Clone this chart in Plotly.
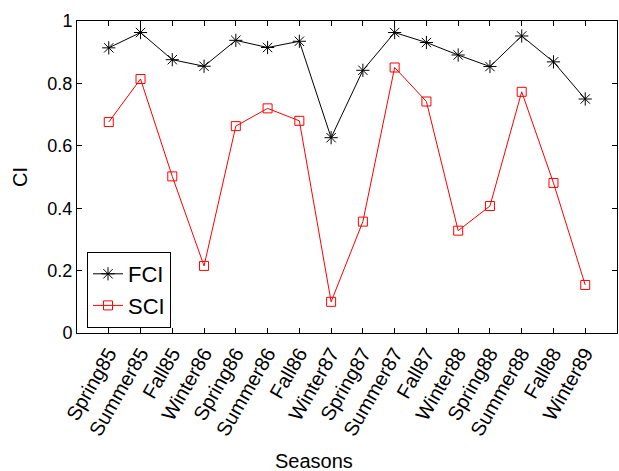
import plotly.graph_objects as go

seasons = ["Spring85", "Summer85", "Fall85", "Winter86", "Spring86", "Summer86", "Fall86",
           "Winter87", "Spring87", "Summer87", "Fall87", "Winter88", "Spring88", "Summer88",
           "Fall88", "Winter89"]
fci = [0.914, 0.963, 0.876, 0.855, 0.938, 0.915, 0.935, 0.626, 0.842, 0.963, 0.931,
       0.891, 0.854, 0.952, 0.869, 0.750]
sci = [0.676, 0.814, 0.502, 0.215, 0.663, 0.720, 0.680, 0.100, 0.357, 0.851, 0.742,
       0.328, 0.407, 0.773, 0.481, 0.154]
yticks = [0, 0.2, 0.4, 0.6, 0.8, 1]
ytick_text = ["0", "0.2", "0.4", "0.6", "0.8", "1"]

xs = list(range(1, len(seasons) + 1))
FONT = "Liberation Sans, Arial, sans-serif"

W, H = 619, 471
ML, MR, MT, MB = 77, 2, 21, 138
pw = W - ML - MR
ph = H - MT - MB


def px_x(p):
    return (p - ML) / pw


def px_y(p):
    return (H - MB - p) / ph


fig = go.Figure()
fig.add_trace(go.Scatter(
    x=xs, y=fci, name="FCI", mode="lines+markers",
    line=dict(color="black", width=1),
    marker=dict(symbol="asterisk-open", size=11, color="black",
                line=dict(color="black", width=1)),
))
fig.add_trace(go.Scatter(
    x=xs, y=sci, name="SCI", mode="lines+markers",
    line=dict(color="#ff0000", width=1),
    marker=dict(symbol="square-open", size=9, color="#ff0000",
                line=dict(color="#ff0000", width=1)),
))

fig.update_layout(
    width=W, height=H,
    margin=dict(l=ML, r=MR, t=MT, b=MB),
    paper_bgcolor="white", plot_bgcolor="white",
    font=dict(family=FONT, color="black", size=18),
    showlegend=True,
    legend=dict(x=px_x(87), y=px_y(328), xanchor="left", yanchor="bottom",
                bordercolor="black", borderwidth=1, bgcolor="white",
                font=dict(size=22, family=FONT), tracegroupgap=0,
                entrywidth=60),
    xaxis=dict(
        range=[0, 17], tickmode="array", tickvals=xs, ticktext=seasons,
        tickangle=-60, ticks="inside", ticklen=5, tickcolor="black",
        showline=True, linecolor="black", linewidth=1, mirror="ticks",
        showgrid=False, zeroline=False, tickfont=dict(size=20),
    ),
    yaxis=dict(
        range=[0, 1], tickmode="array", tickvals=yticks, ticktext=ytick_text,
        ticks="inside", ticklen=5, tickcolor="black",
        showline=True, linecolor="black", linewidth=1, mirror="ticks",
        showgrid=False, zeroline=False, tickfont=dict(size=18),
    ),
    annotations=[
        dict(text="Seasons", x=px_x(314), y=px_y(474), xref="paper", yref="paper",
             xanchor="center", yanchor="bottom", showarrow=False,
             font=dict(size=20)),
        dict(text="CI", textangle=-90, xref="paper", yref="paper",
             x=px_x(20), y=0.5, xanchor="center", yanchor="middle",
             showarrow=False, font=dict(size=20)),
    ],
)

fig.write_html("out.html")
